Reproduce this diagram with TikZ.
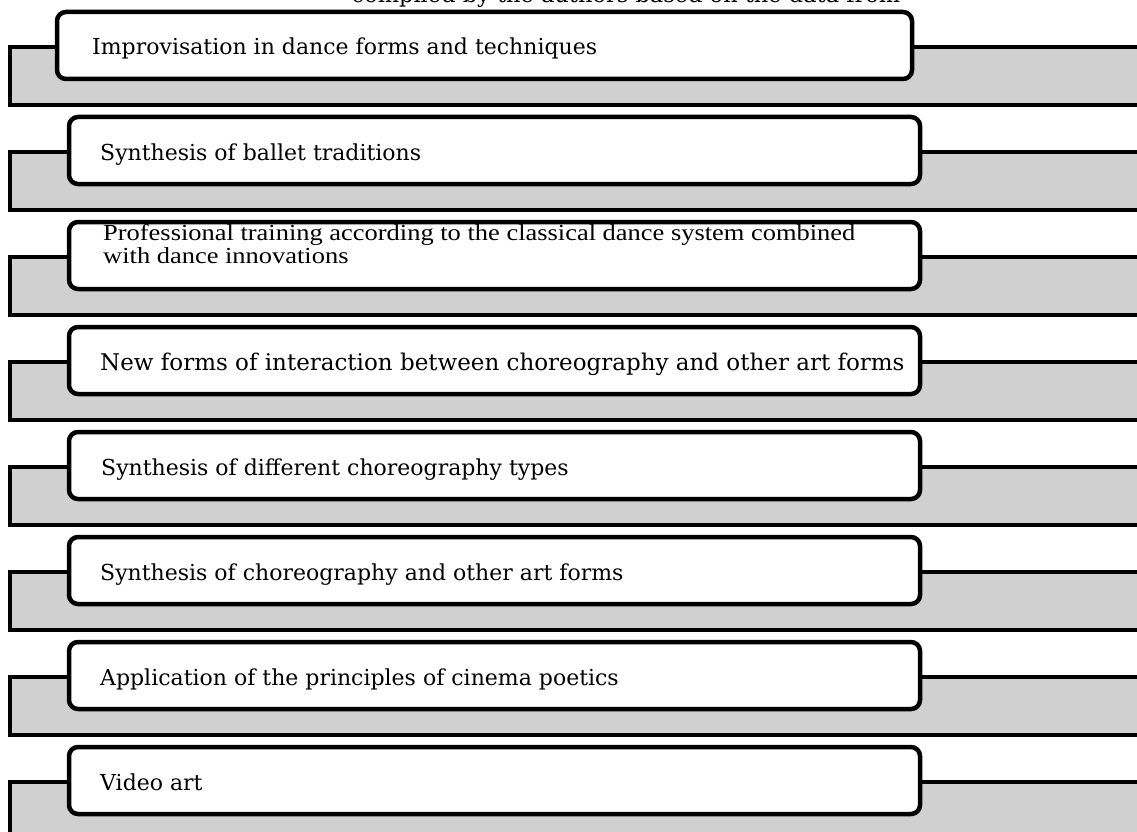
\documentclass[tikz,border=0pt]{standalone}
\usepackage{fontspec}
\setmainfont{DejaVu Serif}
\newfontfamily\garafont[FakeStretch=1.15]{Liberation Serif}
\definecolor{panelgray}{RGB}{208,208,208}
\begin{document}
\begin{tikzpicture}[x=1pt,y=-1pt,
  panel/.style={draw=black, line width=4.5pt, fill=panelgray},
  wbox/.style={draw=black, line width=4.5pt, fill=white, rounded corners=9pt,
    minimum height=67pt, anchor=north west, inner sep=0pt, outer sep=0pt},
  lbl/.style={anchor=base west, inner sep=0pt, font=\fontsize{22}{26}\selectfont},
  glbl/.style={anchor=base west, inner sep=0pt, align=left, font=\garafont\fontsize{23}{22.5}\selectfont}]
\useasboundingbox (0,0) rectangle (1137,832);
\clip (0,0) rectangle (1137,832);
\node[anchor=base, inner sep=0pt, font=\fontsize{22.5}{26}\selectfont] (title) at (626,3) {compiled by the authors based on the data from};
% panels
\foreach \i in {0,...,7}{
  \draw[panel] (10,{47+105*\i}) rectangle (1200,{105+105*\i});
}
% boxes
\node[wbox, minimum width=855pt] (b1) at (57,12) {};
\node[wbox, minimum width=851pt] (b2) at (69,117) {};
\node[wbox, minimum width=851pt] (b3) at (69,222) {};
\node[wbox, minimum width=851pt] (b4) at (69,327) {};
\node[wbox, minimum width=851pt] (b5) at (69,432) {};
\node[wbox, minimum width=851pt] (b6) at (69,537) {};
\node[wbox, minimum width=851pt] (b7) at (69,642) {};
\node[wbox, minimum width=851pt] (b8) at (69,747) {};
% labels
\node[lbl] (t1) at (92,55) {Improvisation in dance forms and techniques};
\node[lbl] (t2) at (100,160) {Synthesis of ballet traditions};
\node[glbl] (t3) at (103,263) {Professional training according to the classical dance system combined\\with dance innovations};
\node[lbl, font=\fontsize{23}{26}\selectfont] (t4) at (100,370) {New forms of interaction between choreography and other art forms};
\node[lbl] (t5) at (101,475) {Synthesis of different choreography types};
\node[lbl] (t6) at (100,580) {Synthesis of choreography and other art forms};
\node[lbl] (t7) at (100,685) {Application of the principles of cinema poetics};
\node[lbl] (t8) at (100,790) {Video art};
\end{tikzpicture}
\end{document}
